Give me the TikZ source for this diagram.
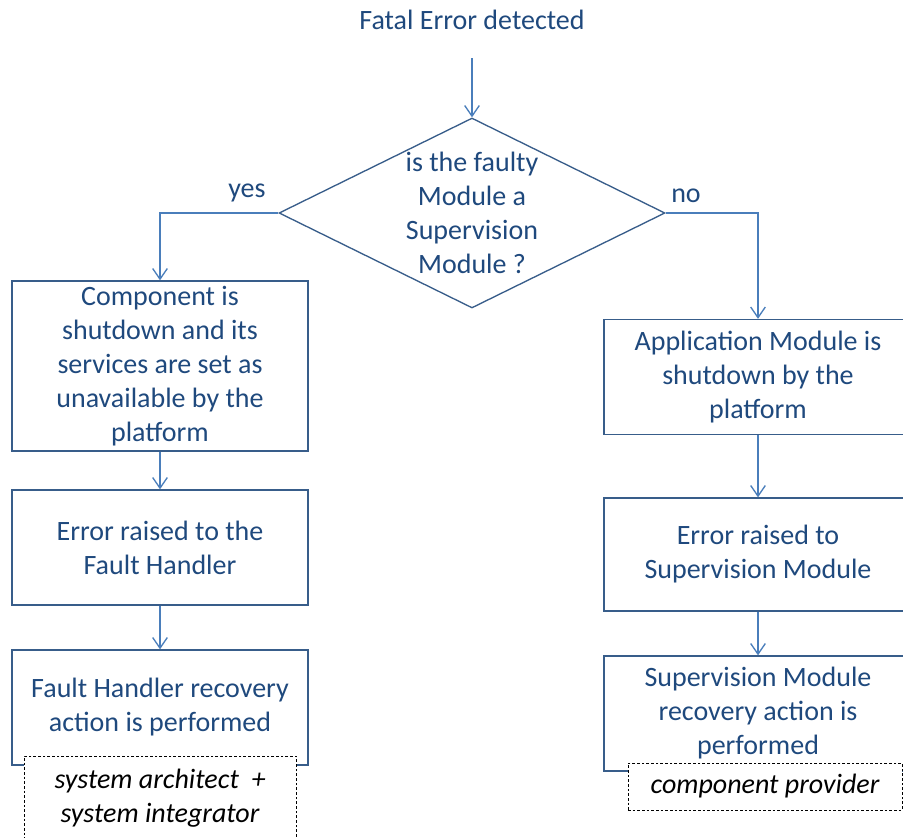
\documentclass[tikz,border=0pt]{standalone}
\usepackage{fontspec}
\setmainfont{Carlito}
\usetikzlibrary{shapes.geometric,arrows.meta}
\definecolor{txtblue}{RGB}{31,73,125}
\definecolor{lineblue}{RGB}{74,126,187}
\definecolor{boxblue}{RGB}{56,93,138}

\begin{document}
\begin{tikzpicture}[x=0.75pt,y=-0.75pt,
  every node/.style={font=\fontsize{21}{25.5}\selectfont, text=txtblue},
  stepbox/.style={draw=boxblue, line width=1pt, align=center, minimum width=222pt, minimum height=86.25pt, inner sep=0pt},
  rolebox/.style={draw=black, fill=white, dash pattern=on 2pt off 1.5pt, line width=0.7pt, text=black, font=\fontsize{21}{25.5}\selectfont\itshape, align=center, inner sep=0pt},
  conn/.style={draw=lineblue, line width=1pt, -{Straight Barb[length=8pt,width=11pt]}}]

\useasboundingbox (0,0) rectangle (903,838);
\clip (0,0) rectangle (903,838);

% start and decision
\node[minimum height=57pt, inner sep=0pt] (fatal) at (472,20) {Fatal Error detected};
\node[diamond, aspect=2.03, draw=boxblue, line width=1pt, minimum width=289.5pt, minimum height=142.5pt, inner sep=-5pt, align=center] (dec) at (472,213)
  {is the faulty\\Module a\\Supervision\\Module ?};
\node (yes) at (247,193) {yes};
\node (no) at (686,196) {no};

% left column
\node[stepbox, minimum height=127.5pt] (cmp) at (160,366)
  {Component is\\shutdown and its\\services are set as\\unavailable by the\\platform};
\node[stepbox] (errfh) at (160,547.5) {Error raised to the\\Fault Handler};
\node[stepbox] (recfh) at (160,707.5) {Fault Handler recovery\\action is performed};
\node[rolebox, minimum width=204pt, minimum height=63pt] (arch) at (160,798)
  {system architect\ \ +\\system integrator};

% right column (runs off the right edge)
\node[stepbox, minimum width=231pt] (app) at (758,377)
  {Application Module is\\shutdown by the\\platform};
\node[stepbox, minimum width=231pt, minimum height=84.75pt] (errsm) at (758,554.5)
  {Error raised to\\Supervision Module};
\node[stepbox, minimum width=231pt] (recsm) at (758,713.5)
  {Supervision Module\\recovery action is\\performed};
\node[rolebox, minimum width=205.5pt, minimum height=35.25pt] (prov) at (765,786.5)
  {component provider};

% connectors
\draw[conn] (fatal.south) -- (dec.north);
\draw[conn] (dec.west) -| (cmp.north);
\draw[conn] (dec.east) -| (app.north);
\draw[conn] (cmp.south) -- (errfh.north);
\draw[conn] (errfh.south) -- (recfh.north);
\draw[conn] (app.south) -- (errsm.north);
\draw[conn] (errsm.south) -- (recsm.north);

\end{tikzpicture}
\end{document}
